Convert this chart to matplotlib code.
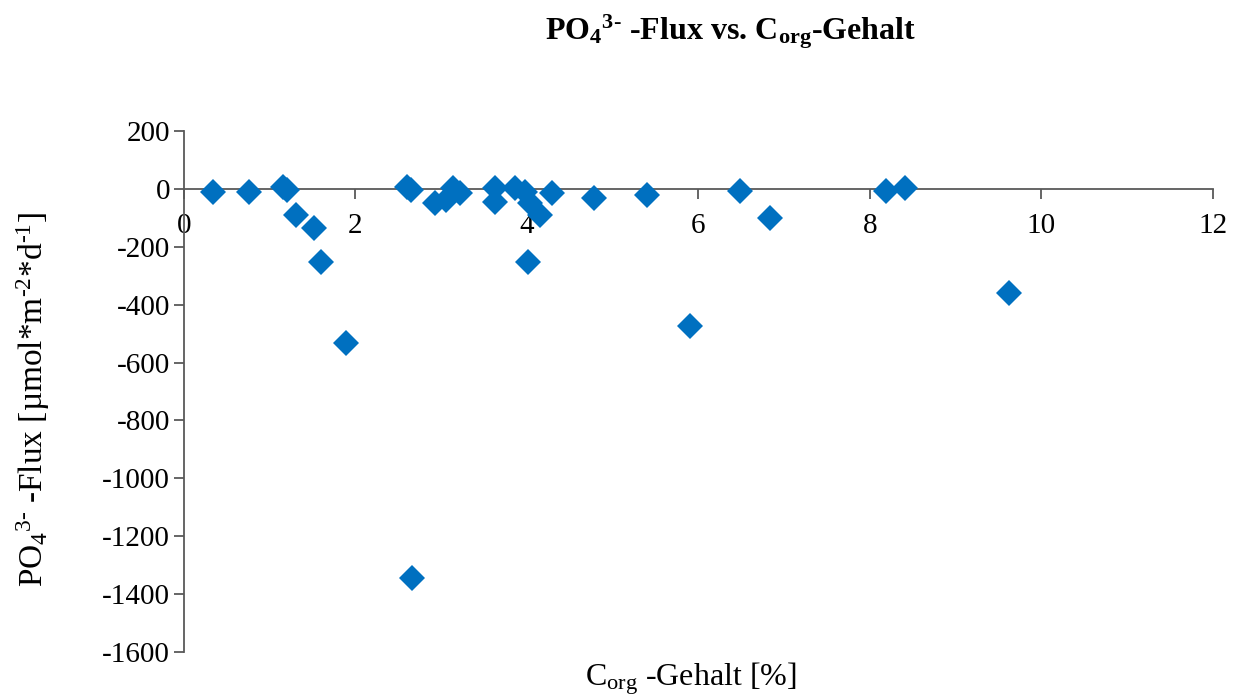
import numpy as np
import matplotlib
matplotlib.use("Agg")
import matplotlib.pyplot as plt

plt.rcParams['font.family'] = ['Liberation Serif', 'DejaVu Serif']
plt.rcParams['mathtext.fontset'] = 'custom'
plt.rcParams['mathtext.rm'] = 'Liberation Serif'
plt.rcParams['mathtext.default'] = 'regular'
plt.rcParams['axes.unicode_minus'] = False

# Corg-Gehalt [%]
corg = [0.34, 0.76, 1.15, 1.20, 1.31, 1.52, 1.60, 1.89, 2.60, 2.65, 2.66,
        2.93, 3.06, 3.14, 3.22, 3.63, 3.63, 3.86, 3.98, 4.03, 4.15, 4.01,
        4.29, 4.78, 5.40, 5.90, 6.48, 6.83, 8.19, 8.41, 9.62]
# PO4-Flux [umol m-2 d-1]
flux = [-10, -10, 5, -5, -90, -135, -251, -532, 5, -3, -1344,
        -48, -38, 3, -14, 3, -44, 2, -10, -50, -90, -252,
        -14, -31, -21, -473, -9, -102, -7, 3, -359]

fig = plt.figure(figsize=(12.38, 6.95), dpi=100)
ax = fig.add_axes([0.1486, 0.0619, 0.8312, 0.7496])

ax.plot(corg, flux, linestyle='none', marker='D', markersize=13,
        color='#0070C0', markeredgewidth=0, zorder=3)

ax.set_xlim(0, 12)
ax.set_ylim(-1600, 200)
ax.set_xticks(np.arange(0, 13, 2))
ax.set_yticks(np.arange(-1600, 201, 200))

axis_col = '#595959'
ax.spines['top'].set_visible(False)
ax.spines['right'].set_visible(False)
ax.spines['bottom'].set_position(('data', 0))
for s in ('left', 'bottom'):
    ax.spines[s].set_color(axis_col)
    ax.spines[s].set_linewidth(1.3)
    ax.spines[s].set_zorder(2)
ax.tick_params(axis='both', colors=axis_col, labelcolor='black',
               labelsize=21, width=1.3, length=7, direction='out')
ax.tick_params(axis='x', pad=10)
ax.tick_params(axis='y', pad=3)

hy = '\u2010'
fig.text(0.59, 0.955, r'PO$_4$$^{3' + hy + r'}$ -Flux vs. C$_{org}$-Gehalt',
         ha='center', va='center', fontsize=23, fontweight='bold')
fig.text(0.558, 0.024, r'C$_{org}$ -Gehalt [%]',
         ha='center', va='center', fontsize=23)
fig.text(0.027, 0.425, r'PO$_4$$^{3' + hy + r'}$ -Flux [µmol*m$^{' + hy + r'2}$*d$^{' + hy + r'1}$]',
         ha='center', va='center', fontsize=24, rotation=90)

fig.savefig('out.png', dpi=100)
